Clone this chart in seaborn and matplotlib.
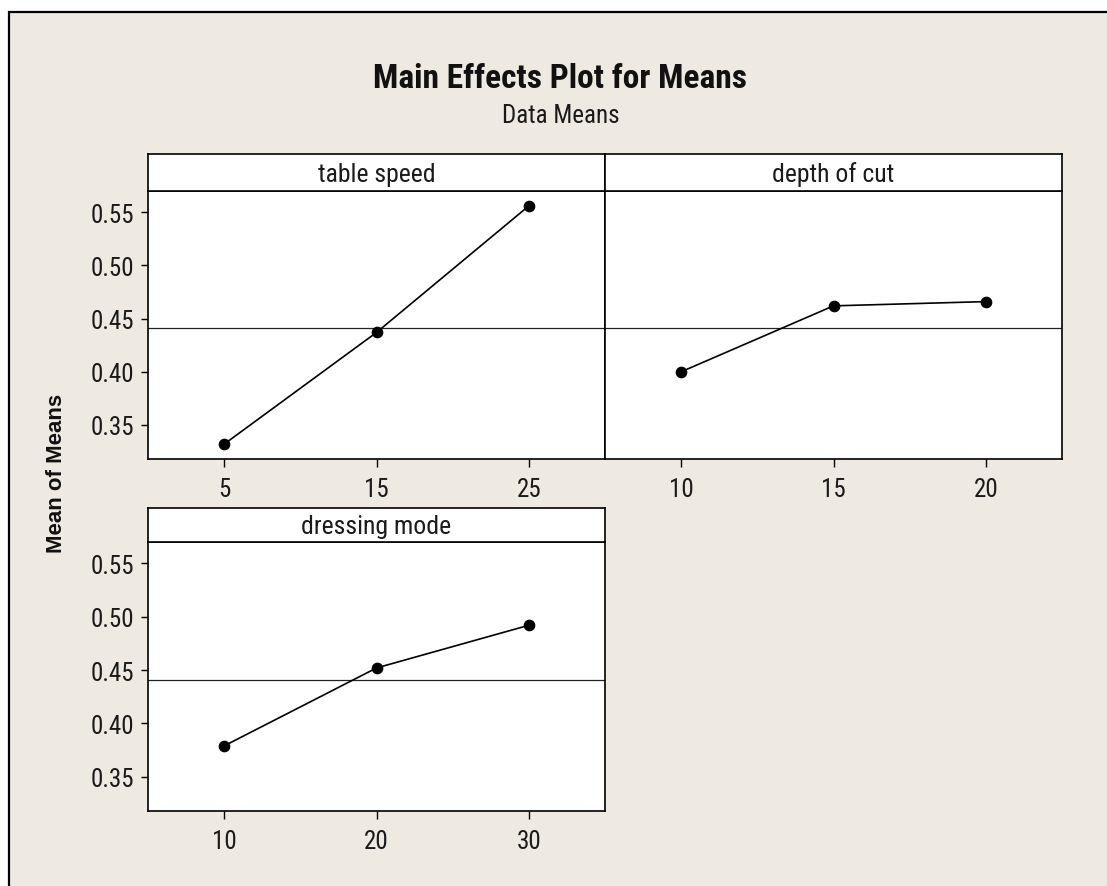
import matplotlib
matplotlib.use("Agg")
import matplotlib.pyplot as plt
import matplotlib.font_manager as fm
from matplotlib.patches import Rectangle
import seaborn as sns

# ---- data ----
factors = ["table speed", "depth of cut", "dressing mode"]
table_speed_levels = ["5", "15", "25"]
table_speed_means = [0.332, 0.437, 0.556]
depth_levels = ["10", "15", "20"]
depth_means = [0.400, 0.462, 0.466]
dressing_levels = ["10", "20", "30"]
dressing_means = [0.379, 0.452, 0.492]
grand_mean = 0.441
y_ticks = [0.35, 0.40, 0.45, 0.50, 0.55]
y_tick_labels = ["0.35", "0.40", "0.45", "0.50", "0.55"]

sns.set_theme(style="white")
names = {f.name for f in fm.fontManager.ttflist}
main_font = "DejaVu Sans"
for cand in ["Liberation Sans Narrow", "DejaVu Sans Condensed", "Roboto Condensed", "Liberation Sans"]:
    if cand in names:
        main_font = cand
        break
plt.rcParams["font.family"] = [main_font, "DejaVu Sans"]

W, H = 1107, 887
fig = plt.figure(figsize=(W / 100, H / 100), dpi=100, facecolor="white")
bg = "#EEEAE1"
fig.patches.append(Rectangle((8.5 / W, -0.05), 1.1, (H - 12.5) / H + 0.05,
                             transform=fig.transFigure, facecolor=bg,
                             edgecolor="black", linewidth=1.6, zorder=-10))

def px_rect(x0, y0, x1, y1):
    return [x0 / W, (H - y1) / H, (x1 - x0) / W, (y1 - y0) / H]

panels = [
    (table_speed_levels, table_speed_means, factors[0], (148, 192, 605, 460), (148, 155, 605, 192), True),
    (depth_levels, depth_means, factors[1], (605, 192, 1062, 460), (605, 155, 1062, 192), False),
    (dressing_levels, dressing_means, factors[2], (148, 543, 605, 812), (148, 509, 605, 543), True),
]

ylim = (0.318, 0.570)
for levels, means, name, rect, srect, show_y in panels:
    ax = fig.add_axes(px_rect(*rect))
    ax.set_facecolor("white")
    sns.pointplot(x=levels, y=means, order=levels, ax=ax, color="black",
                  markers="o", errorbar=None, markersize=7.5, linewidth=1.2)
    ax.axhline(grand_mean, color="#222222", linewidth=0.9, zorder=1)
    ax.set_xlim(-0.5, len(levels) - 0.5)
    ax.set_ylim(*ylim)
    ax.set_yticks(y_ticks)
    ax.set_yticklabels(y_tick_labels)
    ax.set_xlabel("")
    ax.set_ylabel("")
    for s in ax.spines.values():
        s.set_color("black")
        s.set_linewidth(1.2)
    ax.tick_params(axis="x", bottom=True, length=6, width=1, pad=7,
                   labelsize=18, colors="black", labelcolor="#1a1a1a")
    if show_y:
        ax.tick_params(axis="y", left=True, length=5, width=1, pad=5,
                       labelsize=18, colors="black", labelcolor="#1a1a1a")
    else:
        ax.tick_params(axis="y", left=False, labelleft=False)
    ax.grid(False)

    sax = fig.add_axes(px_rect(*srect))
    sax.set_facecolor("white")
    sax.set_xticks([])
    sax.set_yticks([])
    for s in sax.spines.values():
        s.set_color("black")
        s.set_linewidth(1.2)
    sax.text(0.5, 0.47, name, ha="center", va="center", fontsize=18.5,
             color="#1a1a1a", transform=sax.transAxes)

fig.text(560 / W, (H - 88) / H, "Main Effects Plot for Means", ha="center",
         va="baseline", fontsize=24, fontweight="bold", color="#111111")
fig.text(561 / W, (H - 123) / H, "Data Means", ha="center", va="baseline",
         fontsize=18, color="#1a1a1a")
fig.text(57 / W, (H - 473) / H, "Mean of Means", rotation=90, ha="center",
         va="center", fontsize=16, fontweight="bold", color="#111111",
         family=["Liberation Sans", "DejaVu Sans"])

fig.savefig("out.png", dpi=100, facecolor=fig.get_facecolor())
